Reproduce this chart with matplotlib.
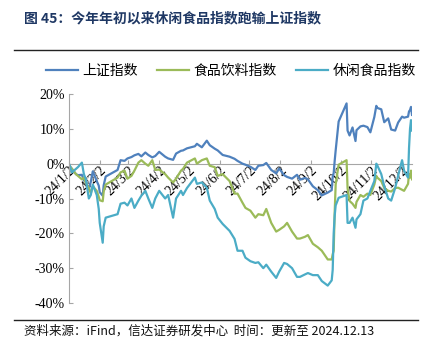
import matplotlib
matplotlib.use("Agg")
import matplotlib.pyplot as plt
import pandas as pd

plt.rcParams["font.family"] = ["Noto Sans CJK SC", "DejaVu Sans"]
plt.rcParams["axes.unicode_minus"] = False

# dates of the sampled points (trading days)
dates = [
    "2024-01-02", "2024-01-05", "2024-01-09", "2024-01-11", "2024-01-15", "2024-01-17",
    "2024-01-19", "2024-01-22", "2024-01-24", "2024-01-26", "2024-01-30", "2024-02-01",
    "2024-02-02", "2024-02-05", "2024-02-06", "2024-02-08", "2024-02-20", "2024-02-23",
    "2024-02-27", "2024-03-01", "2024-03-05", "2024-03-08", "2024-03-12", "2024-03-15",
    "2024-03-19", "2024-03-22", "2024-03-26", "2024-03-29", "2024-04-02", "2024-04-08",
    "2024-04-11", "2024-04-16", "2024-04-19", "2024-04-24", "2024-04-26", "2024-04-30",
    "2024-05-08", "2024-05-10", "2024-05-15", "2024-05-20", "2024-05-23", "2024-05-28",
    "2024-05-31", "2024-06-05", "2024-06-12", "2024-06-17", "2024-06-20", "2024-06-25",
    "2024-06-28", "2024-07-03", "2024-07-08", "2024-07-11", "2024-07-16", "2024-07-19",
    "2024-07-24", "2024-07-29", "2024-08-01", "2024-08-06", "2024-08-09", "2024-08-14",
    "2024-08-19", "2024-08-22", "2024-08-27", "2024-08-30", "2024-09-04", "2024-09-09",
    "2024-09-13", "2024-09-19", "2024-09-23", "2024-09-24", "2024-09-25", "2024-09-26",
    "2024-09-27", "2024-09-30", "2024-10-08", "2024-10-09", "2024-10-11", "2024-10-14",
    "2024-10-17", "2024-10-18", "2024-10-22", "2024-10-25", "2024-10-29", "2024-11-01",
    "2024-11-05", "2024-11-07", "2024-11-08", "2024-11-12", "2024-11-15", "2024-11-19",
    "2024-11-22", "2024-11-26", "2024-11-29", "2024-12-03", "2024-12-05", "2024-12-09",
    "2024-12-10", "2024-12-11", "2024-12-12", "2024-12-13",
]

# cumulative change since start of year, %
sh_index = [
    -0.4, -1.5, -3.0, -3.3, -3.2, -4.8, -5.0, -7.4, -5.2, -2.2, -5.0, -6.3,
    -8.2, -9.2, -6.2, -3.7, -1.8, 1.0, 0.8, 1.5, 1.9, 2.4, 2.8, 2.1,
    3.2, 2.5, 1.8, 2.2, 3.4, 2.0, 1.5, 1.1, 2.9, 3.7, 3.8, 4.4,
    5.0, 5.7, 4.7, 6.6, 5.3, 4.3, 3.8, 2.5, 2.0, 1.4, 0.8, 0.0,
    -0.3, -0.9, -1.8, -0.6, -0.4, 0.2, -1.8, -2.8, -1.4, -3.3, -3.8, -4.3,
    -3.2, -4.6, -4.1, -4.5, -6.5, -7.6, -9.1, -8.3, -7.6, -3.8, -2.7, 0.8,
    3.8, 12.1, 17.3, 9.5, 8.1, 10.4, 6.5, 9.6, 10.7, 10.9, 10.5, 9.0,
    13.4, 16.6, 16.0, 15.6, 11.9, 13.0, 9.8, 9.5, 11.8, 13.5, 13.2, 13.5,
    15.0, 15.4, 16.3, 14.0,
]
food_bev = [
    -0.5, -1.5, -3.0, -3.5, -4.5, -4.0, -5.5, -7.0, -8.5, -6.5, -7.8, -9.5,
    -10.5, -10.8, -8.0, -6.0, -4.0, -2.5, -2.0, -4.3, -3.5, -2.0, 0.3, 1.0,
    0.0, -0.6, 1.0, -1.8, -1.7, -3.0, -4.0, -5.4, -4.3, -2.0, -1.5, 0.3,
    1.5, 0.0, 1.0, 1.5, -0.6, -1.0, -3.5, -3.0, -5.0, -8.6, -8.6, -11.2,
    -12.7, -13.5, -15.5, -14.5, -14.8, -13.0, -17.0, -19.5, -19.0, -18.0, -17.0, -19.5,
    -21.5, -21.5, -21.0, -20.5, -23.0, -24.0, -25.0, -27.5, -27.5, -26.0, -25.0, -14.0,
    -6.0, -0.3, 1.0, -7.0, -10.7, -11.5, -12.7, -11.0, -9.0, -9.5, -8.6, -9.0,
    -6.0, -3.5, -4.0, -5.0, -7.0, -7.8, -8.0, -7.0, -6.9, -7.5, -7.8, -5.8,
    -3.0, -4.0, -2.0, -4.5,
]
snack_food = [
    0.0, -2.5, -1.5, -1.0, 0.3, -3.0, -4.5, -10.0, -9.0, -6.0, -9.0, -13.0,
    -17.0, -22.7, -18.0, -15.5, -14.5, -11.5, -11.2, -12.0, -10.0, -12.7, -10.6, -9.2,
    -7.8, -10.0, -12.7, -10.0, -7.8, -10.0, -9.0, -15.5, -10.0, -7.8, -9.0, -7.0,
    -4.0, -5.8, -5.4, -6.9, -10.6, -13.0, -15.5, -17.3, -19.3, -21.6, -25.0, -25.0,
    -27.0, -28.0, -28.5, -28.3, -30.0, -29.0, -31.0, -32.8, -31.0, -28.5, -28.8, -30.0,
    -32.5, -32.5, -31.8, -31.4, -32.0, -32.0, -33.7, -35.0, -33.5, -30.5, -20.0, -15.0,
    -12.0, -9.8, -9.0, -17.0, -17.0, -15.5, -18.4, -16.0, -14.5, -10.6, -10.0, -7.8,
    -5.0, 0.0, -0.5, -3.0, -6.5, -10.0, -10.6, -7.0, -3.5, 1.0, -2.0, -4.0,
    4.5, 10.0, 12.5, 9.5,
]

series_names = ["上证指数", "食品饮料指数", "休闲食品指数"]
colors = ["#4F81BD", "#9BBB59", "#4BACC6"]
y_ticks = [-40, -30, -20, -10, 0, 10, 20]
month_ticks = [pd.Timestamp(2024, m, 2) for m in range(1, 13)]

x = pd.to_datetime(dates)

fig = plt.figure(figsize=(4.24, 3.49), dpi=100)
ax = fig.add_axes([69 / 424, 1 - 303 / 349, (412 - 69) / 424, (303 - 94) / 349])
ax.patch.set_visible(False)

for values, name, color in zip([sh_index, food_bev, snack_food], series_names, colors):
    ax.plot(x, values, color=color, lw=1.6, label=name)

ax.set_xlim(x[0], x[-1])
ax.set_ylim(-40, 20)

for side in ["top", "right"]:
    ax.spines[side].set_visible(False)
ax.spines["bottom"].set_position(("data", 0))
ax.spines["bottom"].set_color("#a6a6a6")
ax.spines["left"].set_color("#a6a6a6")
ax.spines["bottom"].set_zorder(0)
ax.tick_params(axis="both", direction="in", length=3, color="#a6a6a6")
ax.tick_params(axis="y", pad=3)
ax.tick_params(axis="x", pad=0)

ax.set_yticks(y_ticks)
ax.set_yticklabels([f"{v}%" for v in y_ticks])
ax.set_xticks(month_ticks)
ax.set_xticklabels([f"24/{d.month}/2" for d in month_ticks])

for lbl in ax.get_yticklabels():
    lbl.set_fontfamily("Liberation Serif")
    lbl.set_fontsize(10)
for lbl in ax.get_xticklabels():
    lbl.set_fontfamily("Liberation Serif")
    lbl.set_fontsize(10)
    lbl.set_rotation(45)
    lbl.set_rotation_mode("anchor")
    lbl.set_ha("right")
    lbl.set_va("top")

fig.text(24 / 424, 1 - 18 / 349, "图 45：今年年初以来休闲食品指数跑输上证指数",
         fontsize=10, fontweight="bold", color="#1F3864", va="center", ha="left")
fig.add_artist(plt.Line2D([14 / 424, 418 / 424], [1 - 50 / 349] * 2, color="#222222", lw=1))
fig.add_artist(plt.Line2D([14 / 424, 418 / 424], [1 - 320 / 349] * 2, color="#222222", lw=1))

fig.legend(loc="center", bbox_to_anchor=(231 / 424, 1 - 71 / 349), ncol=3, frameon=False,
           fontsize=10, handlelength=2.3, handletextpad=0.3, columnspacing=1.4)

fig.text(24 / 424, 1 - 331 / 349, "资料来源：iFind，信达证券研发中心  时间：更新至 2024.12.13",
         fontsize=9, style="italic", color="#111111", va="center", ha="left")

fig.savefig("out.png", dpi=100)
